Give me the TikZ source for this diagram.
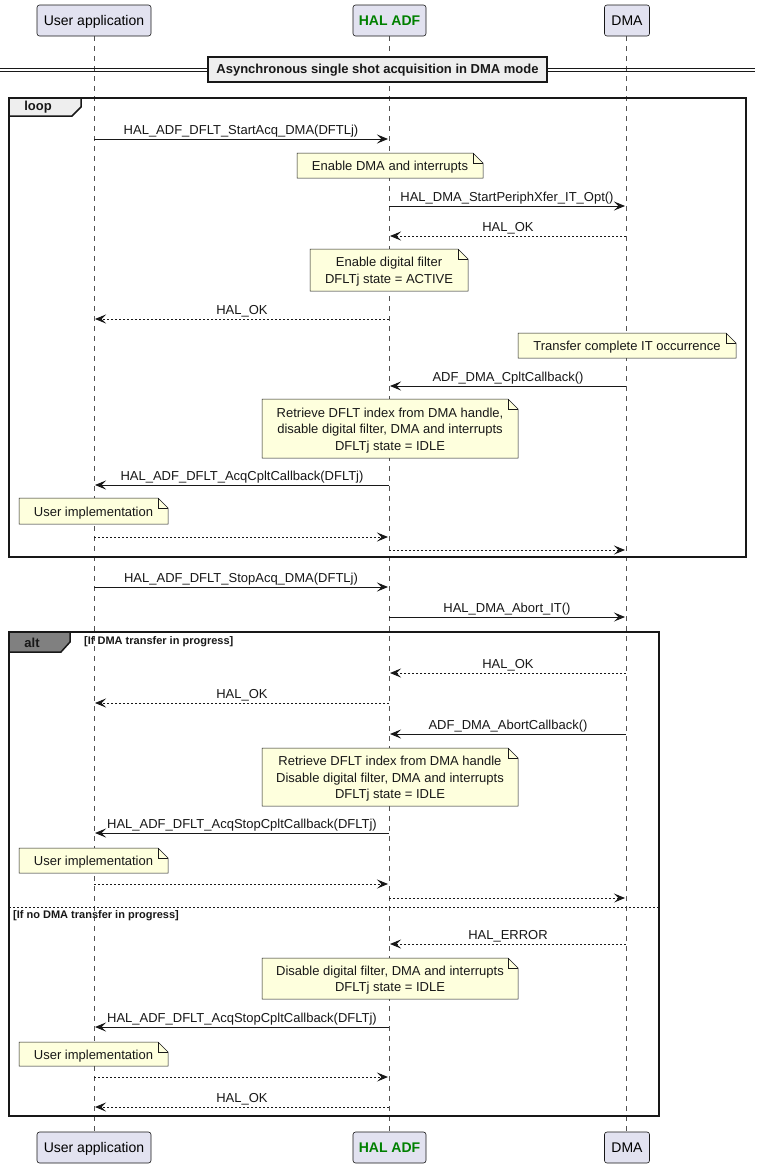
\documentclass[tikz,border=0pt]{standalone}
\usepackage{fontspec}
\setmainfont{Liberation Sans}
\usetikzlibrary{arrows.meta}
\definecolor{partfill}{HTML}{E2E2F0}
\definecolor{ink}{HTML}{181818}
\definecolor{notefill}{HTML}{FEFFDD}
\definecolor{tabfill}{HTML}{EEEEEE}
\definecolor{altfill}{HTML}{808080}
\definecolor{halgreen}{HTML}{008000}
\newcommand\msgf{\fontsize{13}{16.5}\selectfont}
\newcommand\mymsg[6]{%
  \coordinate (#1s) at (#3,#2);
  \coordinate (#1e) at (#4,#2);
  \draw[#5] (#1s) -- node[msglabel] (#1l) {#6} (#1e);
}
\newcommand\mynote[6]{%
  \draw[notebox] (#2,#3) -- ({#4-10},#3) -- (#4,{#3+10}) -- (#4,#5) -- (#2,#5) -- cycle;
  \draw[notebox,fill=none] ({#4-10},#3) -- ({#4-10},{#3+10}) -- (#4,{#3+10});
  \node[notetext] (#1) at ({(#2+#4)/2},{(#3+#5)/2+1.8}) {#6};
}
\begin{document}
\begin{tikzpicture}[x=1pt,y=-1pt,
  part/.style={draw=ink,fill=partfill,line width=0.6pt,rounded corners=2.5pt,minimum height=31pt,inner sep=0pt,text depth=0pt,font=\fontsize{14}{16}\selectfont},
  lifeline/.style={draw=ink!75,line width=0.5pt,dash pattern=on 5pt off 5pt},
  solidmsg/.style={draw=ink,line width=0.9pt,-{Stealth[length=11pt,width=9pt,inset=4.5pt]}},
  dashmsg/.style={draw=ink,line width=0.9pt,dash pattern=on 2pt off 2pt,-{Stealth[length=11pt,width=9pt,inset=4.5pt]}},
  msglabel/.style={pos=0.5,anchor=base,yshift=4.5pt,inner sep=0pt,font=\msgf,text=ink},
  notebox/.style={draw=ink,fill=notefill,line width=0.5pt},
  notetext/.style={align=center,inner sep=0pt,font=\msgf,text=ink},
  frame/.style={draw=ink,line width=1.5pt},
  boldlbl/.style={inner sep=0pt,font=\bfseries\fontsize{13}{15}\selectfont,text=ink},
  condlbl/.style={inner sep=0pt,anchor=west,font=\bfseries\fontsize{11}{13}\selectfont,text=ink},
]
\useasboundingbox (0,0) rectangle (761,1168);
\fill[white] (0,0) rectangle (761,1168);

% lifelines
\coordinate (uT) at (94,36); \coordinate (uB) at (94,1132);
\coordinate (hT) at (389,36); \coordinate (hB) at (389,1132);
\coordinate (dT) at (626,36); \coordinate (dB) at (626,1132);
\draw[lifeline] (uT) -- (uB);
\draw[lifeline] (hT) -- (hB);
\draw[lifeline] (dT) -- (dB);

% participants
\node[part,minimum width=114pt] (user) at (94,20.5) {User application};
\node[part,minimum width=73pt,text=halgreen,font=\bfseries\fontsize{14}{16}\selectfont] (hal) at (389.5,20.5) {HAL ADF};
\node[part,minimum width=45pt] (dma) at (627,20.5) {DMA};
\node[part,minimum width=114pt] (user2) at (94,1147.5) {User application};
\node[part,minimum width=73pt,text=halgreen,font=\bfseries\fontsize{14}{16}\selectfont] (hal2) at (389.5,1147.5) {HAL ADF};
\node[part,minimum width=45pt] (dma2) at (627,1147.5) {DMA};

% divider
\draw[ink,line width=1pt] (0,68) -- (755,68);
\draw[ink,line width=1pt] (0,71.5) -- (755,71.5);
\draw[frame,fill=tabfill] (208,57) rectangle (547,82);
\node[boldlbl,font=\bfseries\fontsize{13}{15}\selectfont] (divlbl) at (377.5,70) {Asynchronous single shot acquisition in DMA mode};

% loop frame
\draw[frame] (9,98) rectangle (746,557);
\draw[frame,fill=tabfill] (9,98) -- (81,98) -- (81,107) -- (72,116) -- (9,116) -- cycle;
\node[boldlbl] (looplbl) at (38,107.5) {loop};

\mymsg{m1}{139}{94}{388}{solidmsg}{HAL\_ADF\_DFLT\_StartAcq\_DMA(DFTLj)}
\mynote{n1}{297}{153}{483}{178}{Enable DMA and interrupts}
\mymsg{m2}{206}{389}{625}{solidmsg}{HAL\_DMA\_StartPeriphXfer\_IT\_Opt()}
\mymsg{m3}{236}{626}{390}{dashmsg}{HAL\_OK}
\mynote{n2}{310}{249}{468}{291}{Enable digital filter\\DFLTj state = ACTIVE}
\mymsg{m4}{319}{389}{95}{dashmsg}{HAL\_OK}
\mynote{n3}{518}{333}{736}{358}{Transfer complete IT occurrence}
\mymsg{m5}{386}{626}{390}{solidmsg}{ADF\_DMA\_CpltCallback()}
\mynote{n4}{262}{399}{518}{458}{Retrieve DFLT index from DMA handle,\\disable digital filter, DMA and interrupts\\DFLTj state = IDLE}
\mymsg{m6}{485}{389}{95}{solidmsg}{HAL\_ADF\_DFLT\_AcqCpltCallback(DFLTj)}
\mynote{n5}{19}{498}{168}{524}{User implementation}
\mymsg{m7}{537}{94}{388}{dashmsg}{}
\mymsg{m8}{550}{389}{625}{dashmsg}{}

\mymsg{m9}{587}{94}{388}{solidmsg}{HAL\_ADF\_DFLT\_StopAcq\_DMA(DFTLj)}
\mymsg{m10}{617}{389}{625}{solidmsg}{HAL\_DMA\_Abort\_IT()}

% alt frame
\draw[frame] (9,632) rectangle (659,1116);
\draw[frame,fill=altfill] (9,632) -- (70,632) -- (70,642) -- (61,652) -- (9,652) -- cycle;
\node[boldlbl] (altlbl) at (32,642.5) {alt};
\node[condlbl] (cond1) at (84,642) {[If DMA transfer in progress]};
\coordinate (sepL) at (9,907); \coordinate (sepR) at (659,907);
\draw[ink,line width=0.8pt,dash pattern=on 2pt off 2pt] (sepL) -- (sepR);
\node[condlbl] (cond2) at (13,916) {[If no DMA transfer in progress]};

\mymsg{m11}{673}{626}{390}{dashmsg}{HAL\_OK}
\mymsg{m12}{703}{389}{95}{dashmsg}{HAL\_OK}
\mymsg{m13}{734}{626}{390}{solidmsg}{ADF\_DMA\_AbortCallback()}
\mynote{n6}{262}{748}{518}{806}{Retrieve DFLT index from DMA handle\\Disable digital filter, DMA and interrupts\\DFLTj state = IDLE}
\mymsg{m14}{833}{389}{95}{solidmsg}{HAL\_ADF\_DFLT\_AcqStopCpltCallback(DFLTj)}
\mynote{n7}{19}{848}{168}{873}{User implementation}
\mymsg{m15}{884}{94}{388}{dashmsg}{}
\mymsg{m16}{898}{389}{625}{dashmsg}{}

\mymsg{m17}{944}{626}{390}{dashmsg}{HAL\_ERROR}
\mynote{n8}{262}{958}{518}{999}{Disable digital filter, DMA and interrupts\\DFLTj state = IDLE}
\mymsg{m18}{1027}{389}{95}{solidmsg}{HAL\_ADF\_DFLT\_AcqStopCpltCallback(DFLTj)}
\mynote{n9}{19}{1042}{168}{1066}{User implementation}
\mymsg{m19}{1077}{94}{388}{dashmsg}{}
\mymsg{m20}{1107}{389}{95}{dashmsg}{HAL\_OK}
\end{tikzpicture}
\end{document}
